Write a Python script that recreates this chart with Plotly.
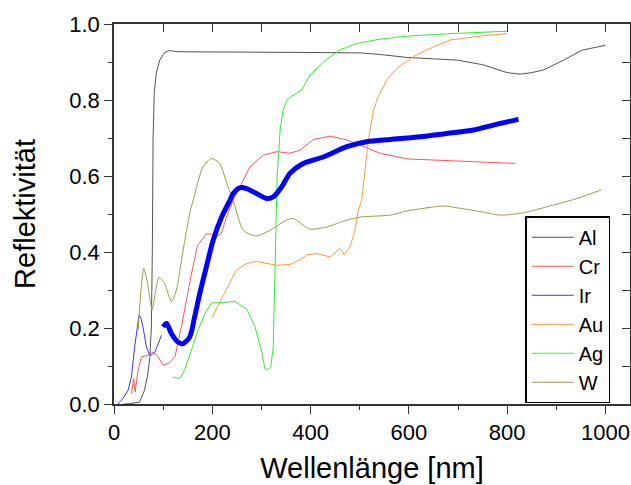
import plotly.graph_objects as go

# ---- data ----
al_x = [20, 32, 52, 62, 69, 73, 76, 78, 79.5, 82, 86, 93, 103, 113, 130, 200, 300, 400, 500, 540, 596, 650, 698, 750, 800, 827, 850, 874, 915, 952, 1000]
al_y = [0.0, 0.001, 0.005, 0.036, 0.08, 0.124, 0.203, 0.4, 0.7, 0.82, 0.87, 0.905, 0.925, 0.93, 0.927, 0.926, 0.926, 0.925, 0.924, 0.92, 0.912, 0.909, 0.905, 0.893, 0.872, 0.868, 0.872, 0.879, 0.905, 0.931, 0.944]

cr_x = [35.5, 40, 43, 49, 56, 69, 79.5, 89.7, 100, 110, 124, 130, 137, 157, 170, 181, 188, 198.5, 208.7, 218.6, 229, 242.5, 256, 276.5, 304, 331, 358, 378.5, 405.5, 440, 473.6, 507.5, 541.5, 596, 677, 745, 816.6]
cr_y = [0.027, 0.067, 0.032, 0.089, 0.124, 0.128, 0.137, 0.124, 0.102, 0.106, 0.124, 0.159, 0.203, 0.338, 0.418, 0.435, 0.448, 0.447, 0.44, 0.449, 0.492, 0.536, 0.571, 0.624, 0.655, 0.664, 0.66, 0.668, 0.696, 0.705, 0.695, 0.677, 0.66, 0.645, 0.64, 0.637, 0.633]

ir_x = [8, 20, 28.5, 35.5, 42, 47, 51, 55, 59, 66, 72.8, 78, 83, 90, 96.6]
ir_y = [0.0, 0.018, 0.036, 0.071, 0.15, 0.2, 0.234, 0.225, 0.203, 0.15, 0.128, 0.13, 0.137, 0.158, 0.181]

ir2_x = [100, 107, 117, 130, 140.6, 154, 164, 174.6, 188, 201.8, 219, 236, 242.5, 256, 270, 290, 310.6, 324, 341, 358, 385, 426, 473.6, 514, 562, 623, 677, 731.6, 772, 823]
ir2_y = [0.203, 0.212, 0.185, 0.163, 0.159, 0.176, 0.229, 0.291, 0.361, 0.431, 0.492, 0.536, 0.554, 0.569, 0.567, 0.554, 0.541, 0.545, 0.571, 0.607, 0.633, 0.65, 0.677, 0.69, 0.696, 0.703, 0.712, 0.721, 0.734, 0.749]

au_x = [199.7, 215, 232, 249, 270, 290, 310.6, 331, 358, 378.5, 392, 412, 440, 460, 469, 480, 490.5, 497, 504, 517.6, 528, 538, 555, 575.5, 609, 650, 684, 745, 800]
au_y = [0.228, 0.267, 0.311, 0.352, 0.37, 0.375, 0.37, 0.365, 0.367, 0.38, 0.392, 0.396, 0.387, 0.409, 0.393, 0.413, 0.457, 0.51, 0.536, 0.694, 0.773, 0.81, 0.852, 0.883, 0.914, 0.94, 0.958, 0.968, 0.975]

ag_x = [119, 134, 144, 154, 171, 185, 198.5, 222, 246, 270, 287, 300, 307, 312, 319, 324, 328, 332, 338, 344, 352, 361.5, 382, 399, 426, 460, 494, 541, 596, 691, 800]
ag_y = [0.071, 0.067, 0.09, 0.13, 0.194, 0.238, 0.266, 0.267, 0.27, 0.25, 0.203, 0.141, 0.093, 0.09, 0.097, 0.15, 0.4, 0.6, 0.72, 0.773, 0.8, 0.81, 0.826, 0.866, 0.9, 0.932, 0.949, 0.96, 0.968, 0.975, 0.981]

w_x = [49, 55, 60.5, 68, 77.5, 85, 91.7, 103, 117, 127, 140.6, 154, 161, 181, 198.5, 215, 232, 242.5, 263, 290, 317, 351, 365, 399, 433, 473.6, 501, 562, 596, 670, 704.5, 747, 786, 833.5, 881, 935, 991]
w_y = [0.194, 0.3, 0.357, 0.32, 0.247, 0.3, 0.334, 0.317, 0.269, 0.3, 0.404, 0.501, 0.536, 0.624, 0.646, 0.633, 0.571, 0.536, 0.457, 0.442, 0.457, 0.484, 0.488, 0.46, 0.466, 0.484, 0.492, 0.497, 0.508, 0.521, 0.515, 0.506, 0.497, 0.503, 0.519, 0.538, 0.563]

x_ticks = [0, 200, 400, 600, 800, 1000]
y_ticks = [0.0, 0.2, 0.4, 0.6, 0.8, 1.0]
y_ticklabels = ["0.0", "0.2", "0.4", "0.6", "0.8", "1.0"]

series = [
    ("Al", al_x, al_y, "#555555", 1, "linear"),
    ("Cr", cr_x, cr_y, "#ff5555", 1, "linear"),
    ("Ir", ir_x, ir_y, "#3838ff", 1, "linear"),
    ("Au", au_x, au_y, "#ff9a3c", 1, "linear"),
    ("Ag", ag_x, ag_y, "#33ee33", 1, "linear"),
    ("W", w_x, w_y, "#a09c4a", 1, "spline"),
]

FONT = "Liberation Sans, Arial, sans-serif"

fig = go.Figure()
for name, xs, ys, col, wd, shp in series:
    fig.add_trace(go.Scatter(x=xs, y=ys, mode="lines", name=name,
                             line=dict(color=col, width=wd, shape=shp, smoothing=0.6)))
fig.add_trace(go.Scatter(x=ir2_x, y=ir2_y, mode="lines", name="Ir ",
                         showlegend=False,
                         line=dict(color="#0000ff", width=5, shape="spline", smoothing=0.8)))
# invisible trace for mirrored (top/right) axes
fig.add_trace(go.Scatter(x=[0], y=[0], xaxis="x2", yaxis="y2", mode="lines",
                         showlegend=False, hoverinfo="skip", opacity=0))

axis_line = dict(showline=True, linecolor="#333333", linewidth=1.5,
                 showgrid=False, zeroline=False)

fig.update_layout(
    width=631, height=485,
    margin=dict(l=114, r=1, t=24, b=81),
    paper_bgcolor="white", plot_bgcolor="white",
    font=dict(family=FONT, color="black", size=22),
    xaxis=dict(range=[0, 1050], tickvals=x_ticks, ticks="outside", ticklen=8,
               tickwidth=1.3, tickcolor="#333333",
               minor=dict(dtick=100, tick0=0, ticks="outside", ticklen=4, tickcolor="#333333"),
               tickfont=dict(size=22),
               title=dict(text="Wellenlänge [nm]", font=dict(size=29), standoff=14),
               **axis_line),
    yaxis=dict(range=[0, 1], tickvals=y_ticks, ticktext=y_ticklabels,
               ticks="outside", ticklen=8, tickwidth=1.3, tickcolor="#333333",
               minor=dict(dtick=0.1, tick0=0, ticks="outside", ticklen=4, tickcolor="#333333"),
               tickfont=dict(size=22),
               title=dict(text="Reflektivität", font=dict(size=29), standoff=25),
               **axis_line),
    xaxis2=dict(range=[0, 1050], overlaying="x", side="top", anchor="y2",
                dtick=100, tick0=0, ticks="inside", ticklen=8, tickcolor="#333333",
                showticklabels=False, **axis_line),
    yaxis2=dict(range=[0, 1], overlaying="y", side="right", anchor="x2",
                dtick=0.1, tick0=0, ticks="inside", ticklen=8, tickcolor="#333333",
                showticklabels=False, **axis_line),
    legend=dict(x=0.797, y=0.494, xanchor="left", yanchor="top",
                bgcolor="white", bordercolor="black", borderwidth=1.5,
                font=dict(size=20), tracegroupgap=0, itemwidth=42),
    showlegend=True,
)

fig.write_html("out.html")
